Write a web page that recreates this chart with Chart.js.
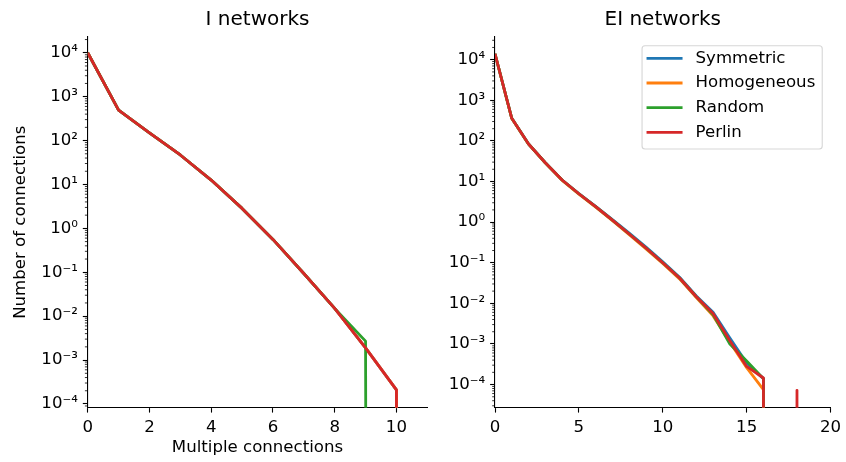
<!DOCTYPE html>
<html>
<head>
<meta charset="utf-8">
<script src="https://cdn.jsdelivr.net/npm/chart.js@4"></script>
<style>
html,body{margin:0;padding:0;background:#fff;}
#wrap{position:relative;width:846px;height:462px;background:#fff;}
canvas{position:absolute;left:0;top:0;}
</style>
</head>
<body>
<div id="wrap">
<canvas id="cI" width="846" height="462"></canvas>
<canvas id="cEI" width="846" height="462"></canvas>
</div>
<script>
// ---------------- data ----------------
const seriesNames = ['Symmetric', 'Homogeneous', 'Random', 'Perlin'];
const seriesColors = ['#1f77b4', '#ff7f0e', '#2ca02c', '#d62728'];

// I networks
const iX           = [0, 1, 2, 3, 4, 5, 6, 7, 8, 9, 10, 11];
const iSymmetric   = [10000, 495, 150, 47, 12.6, 2.85, 0.56, 0.094, 0.015, 0.0019, 0.00021, 0];
const iHomogeneous = [10000, 495, 150, 47, 12.6, 2.85, 0.56, 0.094, 0.015, 0.0019, 0.00021, 0];
const iRandom      = [10000, 495, 150, 47, 12.6, 2.85, 0.56, 0.094, 0.015, 0.0027, 0, 0];
const iPerlin      = [10000, 495, 150, 47, 12.6, 2.85, 0.56, 0.094, 0.015, 0.0019, 0.00021, 0];

// EI networks
const eX           = [0, 1, 2, 3, 4, 5, 6, 7, 8, 9, 10, 11, 12, 13, 14, 15, 16, 17, 18, 19];
const eSymmetric   = [14000, 360, 84, 29, 10.9, 5.05, 2.45, 1.16, 0.535, 0.242, 0.105, 0.044, 0.0152, 0.006, 0.0014, 0.00034, 0.00014, 0, 0, 0];
const eHomogeneous = [14000, 355, 83, 28.5, 10.7, 4.9, 2.33, 1.08, 0.49, 0.22, 0.096, 0.040, 0.0138, 0.0049, 0.0011, 0.00026, 0.000075, 0, 0, 0];
const eRandom      = [14000, 360, 84, 29, 10.9, 5.0, 2.4, 1.12, 0.51, 0.23, 0.100, 0.042, 0.0145, 0.0053, 0.0010, 0.00038, 0.00014, 0, 0, 0];
const ePerlin      = [14000, 360, 84, 29, 10.9, 5.0, 2.4, 1.12, 0.51, 0.23, 0.100, 0.042, 0.0145, 0.0056, 0.0012, 0.00028, 0.000145, 0, 0.000072, 0];

// ticks
const yTickValues = [1e-4, 1e-3, 1e-2, 1e-1, 1e0, 1e1, 1e2, 1e3, 1e4];
const yTickLabels = ['10\u207B\u2074', '10\u207B\u00B3', '10\u207B\u00B2', '10\u207B\u00B9', '10\u2070', '10\u00B9', '10\u00B2', '10\u00B3', '10\u2074'];
const iXTicks = [0, 2, 4, 6, 8, 10];
const eXTicks = [0, 5, 10, 15, 20];

// ---------------- helpers ----------------
// Non-positive values are clipped on a log axis (line plunges straight down out of the axes)
const CLIP_FLOOR = 1e-300;
function pts(xs, ys) {
  return xs.map((x, i) => ({x: x, y: ys[i] > 0 ? ys[i] : CLIP_FLOOR}));
}

Chart.defaults.font.family = '"DejaVu Sans", sans-serif';
Chart.defaults.font.size = 16.6;
Chart.defaults.color = '#000';
Chart.defaults.devicePixelRatio = 1;

const minorTicks = {
  id: 'minorTicks',
  afterDraw(chart) {
    const s = chart.scales.y, ctx = chart.ctx;
    ctx.save();
    ctx.strokeStyle = '#000';
    ctx.lineWidth = 0.8;
    const lo = Math.floor(Math.log10(s.min)), hi = Math.ceil(Math.log10(s.max));
    for (let k = lo; k < hi; k++) {
      for (let m = 2; m <= 9; m++) {
        const v = m * Math.pow(10, k);
        if (v < s.min || v > s.max) continue;
        const y = s.getPixelForValue(v);
        ctx.beginPath();
        ctx.moveTo(s.right, y);
        ctx.lineTo(s.right - 2.8, y);
        ctx.stroke();
      }
    }
    ctx.restore();
  }
};

const boxLegend = {
  id: 'boxLegend',
  afterDraw(chart, args, o) {
    if (!o || !o.display) return;
    const ctx = chart.ctx, ca = chart.chartArea;
    const x = ca.right - o.right - o.width, y = ca.top + o.top;
    ctx.save();
    ctx.beginPath();
    ctx.roundRect(x, y, o.width, o.height, 3);
    ctx.fillStyle = 'rgba(255,255,255,0.8)';
    ctx.fill();
    ctx.strokeStyle = 'rgba(204,204,204,0.8)';
    ctx.lineWidth = 1.1;
    ctx.stroke();
    ctx.font = '16.6px "DejaVu Sans"';
    ctx.textBaseline = 'middle';
    ctx.textAlign = 'left';
    chart.data.datasets.forEach((ds, i) => {
      const yy = y + o.firstRow + i * o.rowGap;
      ctx.strokeStyle = ds.borderColor;
      ctx.lineWidth = ds.borderWidth;
      ctx.beginPath();
      ctx.moveTo(x + o.lineStart, yy);
      ctx.lineTo(x + o.lineStart + o.lineLen, yy);
      ctx.stroke();
      ctx.fillStyle = '#000';
      ctx.fillText(ds.label, x + o.textStart, yy);
    });
    ctx.restore();
  }
};

function makeDatasets(xs, arrays) {
  return arrays.map((arr, i) => ({
    label: seriesNames[i],
    data: pts(xs, arr),
    borderColor: seriesColors[i],
    backgroundColor: seriesColors[i],
    borderWidth: 2.8,
    pointRadius: 0,
    pointHoverRadius: 0,
    tension: 0,
    fill: false,
    clip: 0,
    borderJoinStyle: 'round',
    order: arrays.length - i
  }));
}

function makeChart(id, cfg) {
  return new Chart(document.getElementById(id), {
    type: 'line',
    data: {datasets: makeDatasets(cfg.xs, cfg.arrays)},
    options: {
      responsive: false,
      animation: false,
      events: [],
      layout: {padding: {left: cfg.padLeft, right: cfg.padRight, top: 0, bottom: 0}},
      plugins: {
        legend: {display: false},
        tooltip: {enabled: false},
        title: {
          display: true, text: cfg.title, fullSize: false,
          font: {size: 20, weight: 'normal'}, color: '#000',
          padding: {top: 7.8, bottom: 4.9}
        },
        boxLegend: cfg.legend || {display: false}
      },
      scales: {
        x: {
          type: 'linear', min: cfg.xMin, max: cfg.xMax,
          afterBuildTicks: s => { s.ticks = cfg.xTicks.map(v => ({value: v})); },
          afterFit: s => { s.height = 54.3; },
          grid: {drawOnChartArea: false, tickLength: 4.9, tickWidth: 1.1, tickColor: '#000'},
          border: {display: true, color: '#000', width: 1.1},
          ticks: {padding: 4.9, autoSkip: false, maxRotation: 0, color: '#000'},
          title: cfg.xTitle ? {display: true, text: cfg.xTitle, color: '#000', padding: {top: 2, bottom: 4.2}} : {display: false}
        },
        y: {
          type: 'logarithmic', min: cfg.yMin, max: cfg.yMax,
          afterBuildTicks: s => { s.ticks = yTickValues.map(v => ({value: v})); },
          afterFit: s => { s.width = cfg.yWidth; },
          grid: {drawOnChartArea: false, tickLength: 4.9, tickWidth: 1.1, tickColor: '#000'},
          border: {display: true, color: '#000', width: 1.1},
          ticks: {
            padding: 4.9, autoSkip: false, color: '#000',
            callback: v => { const i = yTickValues.findIndex(t => Math.abs(t - v) / t < 1e-6); return i >= 0 ? yTickLabels[i] : ''; }
          },
          title: cfg.yTitle ? {display: true, text: cfg.yTitle, color: '#000', padding: {top: 10.3, bottom: 2}} : {display: false}
        }
      }
    },
    plugins: [minorTicks, boxLegend]
  });
}

makeChart('cI', {
  xs: iX, arrays: [iSymmetric, iHomogeneous, iRandom, iPerlin],
  title: 'I networks', xTitle: 'Multiple connections', yTitle: 'Number of connections',
  xMin: 0, xMax: 11, xTicks: iXTicks,
  yMin: Math.pow(10, -4.085), yMax: Math.pow(10, 4.366),
  padLeft: 0, padRight: 418.7, yWidth: 87.7
});

makeChart('cEI', {
  xs: eX, arrays: [eSymmetric, eHomogeneous, eRandom, ePerlin],
  title: 'EI networks',
  xMin: 0, xMax: 20, xTicks: eXTicks,
  yMin: Math.pow(10, -4.57), yMax: Math.pow(10, 4.566),
  padLeft: 440, padRight: 12, yWidth: 55,
  legend: {display: true, right: 8.3, top: 9, width: 180.2, height: 103.3,
           firstRow: 12.6, rowGap: 24.7, lineStart: 4.5, lineLen: 36, textStart: 53.5}
});
</script>
</body>
</html>
